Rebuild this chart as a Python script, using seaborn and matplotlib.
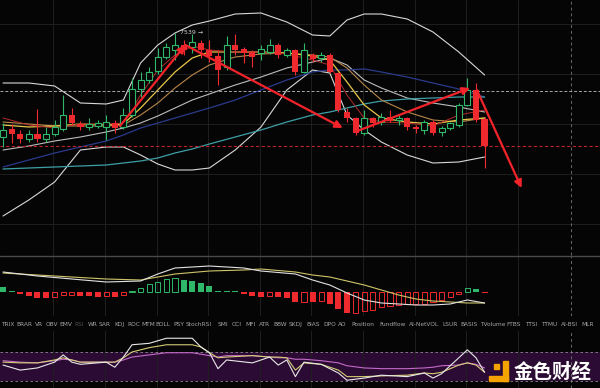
import numpy as np
import matplotlib
matplotlib.use("Agg")
import matplotlib.pyplot as plt
import seaborn as sns

# ---- candles (price) ----
opens = [7435, 7443, 7438, 7433, 7438, 7433, 7438, 7443, 7457, 7448,
         7445, 7446, 7445, 7449, 7445, 7457, 7483, 7492, 7501, 7515,
         7522, 7527, 7525, 7529, 7522, 7516, 7505, 7527, 7523, 7520,
         7519, 7520, 7527, 7517, 7522, 7500, 7517, 7514, 7517, 7499,
         7460, 7454, 7439, 7454, 7450, 7455, 7452, 7454, 7445, 7442,
         7450, 7440, 7444, 7447, 7467, 7482, 7453]
highs = [7449, 7448, 7442, 7442, 7463, 7445, 7452, 7477, 7464, 7451,
         7454, 7452, 7457, 7452, 7464, 7494, 7500, 7505, 7524, 7529,
         7539, 7532, 7538, 7532, 7532, 7522, 7536, 7538, 7525, 7522,
         7527, 7533, 7529, 7524, 7523, 7529, 7519, 7520, 7519, 7500,
         7464, 7455, 7462, 7455, 7459, 7462, 7457, 7455, 7447, 7452,
         7452, 7446, 7450, 7469, 7494, 7489, 7455]
lows = [7425, 7429, 7429, 7430, 7430, 7430, 7436, 7441, 7447, 7442,
        7442, 7444, 7432, 7439, 7443, 7455, 7475, 7489, 7498, 7513,
        7512, 7517, 7519, 7514, 7510, 7487, 7502, 7517, 7509, 7505,
        7512, 7518, 7514, 7515, 7497, 7499, 7510, 7510, 7499, 7460,
        7450, 7437, 7437, 7445, 7447, 7450, 7447, 7442, 7439, 7438,
        7437, 7436, 7442, 7445, 7466, 7450, 7404]
closes = [7442, 7438, 7433, 7438, 7433, 7438, 7445, 7457, 7449, 7445,
          7448, 7449, 7450, 7444, 7457, 7483, 7492, 7500, 7515, 7525,
          7527, 7522, 7530, 7522, 7516, 7502, 7527, 7522, 7519, 7515,
          7523, 7527, 7517, 7522, 7500, 7522, 7513, 7517, 7500, 7462,
          7454, 7439, 7454, 7449, 7455, 7451, 7454, 7445, 7443, 7450,
          7439, 7444, 7449, 7467, 7482, 7452, 7426]

# ---- overlay lines, sampled at these candles ----
ma_idx = [0, 3, 6, 9, 12, 14, 16, 18, 20, 22, 24, 27, 30, 33, 36, 38, 40, 42, 44, 47, 50, 53, 56]
boll_up = [7489, 7489, 7486, 7469, 7468, 7472, 7509, 7527, 7539, 7547, 7551, 7558,
           7559, 7550, 7537, 7536, 7552, 7558, 7558, 7553, 7540, 7520, 7497]
boll_dn = [7356, 7372, 7390, 7422, 7425, 7425, 7417, 7408, 7402, 7402, 7404, 7422,
           7445, 7482, 7502, 7499, 7457, 7442, 7430, 7417, 7409, 7410, 7415]
ma_gray = [7422, 7426, 7431, 7435, 7440, 7444, 7449, 7456, 7464, 7472, 7478, 7487,
           7495, 7504, 7510, 7514, 7507, 7492, 7484, 7474, 7469, 7465, 7460]
ma_navy = [7405, 7412, 7419, 7425, 7431, 7437, 7444, 7449, 7454, 7459, 7464, 7472,
           7482, 7492, 7500, 7502, 7502, 7503, 7500, 7495, 7489, 7483, 7475]
ma_teal = [7403, 7404, 7405, 7406, 7407, 7409, 7411, 7414, 7419, 7423, 7428, 7435,
           7442, 7450, 7457, 7460, 7464, 7468, 7471, 7473, 7474, 7475, 7475]
ma_yellow = [7447, 7445, 7446, 7448, 7447, 7448, 7464, 7482, 7500, 7514, 7520, 7520,
             7520, 7519, 7516, 7512, 7490, 7467, 7454, 7450, 7448, 7452, 7454]
ma_tan = [7450, 7448, 7446, 7446, 7446, 7447, 7457, 7469, 7484, 7497, 7507, 7515,
          7518, 7519, 7517, 7515, 7504, 7487, 7472, 7460, 7452, 7450, 7454]
ma_red = [7454, 7447, 7444, 7448, 7448, 7449, 7477, 7502, 7517, 7526, 7522, 7520,
          7520, 7518, 7512, 7507, 7477, 7454, 7450, 7449, 7446, 7457, 7462]

high_mark = 7539
ref_price = 7481  # white dashed level

# hand drawn arrows: (candle, price) waypoints
arrows = [((13.6, 7446), (21.2, 7527)),
          ((21.2, 7527), (39.5, 7444)),
          ((40.9, 7440), (54.3, 7484)),
          ((55.1, 7482), (60.3, 7384))]

# ---- MACD ----
macd_hist = [4.7, 1.0, -1.5, -3.5, -5.5, -5.7, -4.5, -3.2, -3.0, -3.8,
             -4.0, -4.5, -4.3, -5.3, -3.0, 1.0, 4.5, 7.7, 10.3, 13.0,
             13.7, 12.5, 11.3, 9.3, 6.0, 1.2, 1.0, 0.8, -2.0, -3.7,
             -4.7, -4.0, -5.3, -5.7, -9.7, -9.5, -9.8, -9.3, -12.0, -16.7,
             -21.0, -20.5, -19.3, -17.7, -15.0, -14.3, -13.3, -12.0, -11.7, -11.5,
             -10.0, -8.3, -5.0, -1.7, 4.0, 3.3, -1.0]
macd_idx = [0, 4, 8, 12, 16, 18, 20, 24, 28, 30, 34, 36, 38, 40, 42, 44, 46, 48, 50, 52, 54, 56]
dif = [20, 16, 13, 10, 11, 18, 24, 26, 24, 21, 18, 12, 7, -1, -8, -11, -12, -13, -13, -12, -8, -11]
dea = [19, 17, 15, 13, 12, 15, 18, 21, 22, 23, 20, 17, 15, 11, 7, 2, -3, -7, -9, -10, -11, -11]

# ---- RSI ----
rsi_idx = [0, 2, 4, 6, 7, 8, 9, 12, 13, 14, 15, 17, 19, 20, 22, 23, 24, 25, 26,
           29, 31, 32, 33, 34, 35, 37, 39, 40, 42, 44, 47, 49, 50, 51, 53, 54, 55, 56]
rsi6 = [52, 45, 48, 56, 66, 56, 53, 56, 49, 63, 80, 82, 89, 89, 89, 77, 69, 47, 59,
        55, 63, 52, 59, 36, 56, 53, 41, 31, 34, 38, 36, 41, 34, 40, 62, 73, 62, 42]
rsi12 = [56, 55, 55, 59, 62, 59, 56, 56, 56, 62, 70, 76, 80, 80, 80, 77, 69, 62, 63,
         65, 63, 63, 62, 45, 55, 53, 45, 36, 36, 37, 38, 41, 40, 42, 52, 55, 52, 42]
rsi24 = [58, 56, 55, 58, 60, 59, 56, 56, 56, 59, 63, 66, 69, 69, 69, 67, 65, 63, 65,
         65, 63, 62, 62, 60, 60, 58, 55, 51, 48, 47, 47, 48, 49, 51, 52, 55, 53, 48]

tabs = ["TRIX", "BRAR", "VR", "OBV", "EMV", "RSI", "WR", "SAR", "KDJ", "ROC", "MTM",
        "BOLL", "PSY", "StochRSI", "SMI", "CCI", "MFI", "ATR", "BBW", "SKDJ", "BIAS",
        "DPO", "AO", "Position", "Fundflow", "AI-NetVOL", "LSUR", "BASIS", "TVolume",
        "FTBS", "TTSI", "TTMU", "AI-BSI", "MLR"]
tab_px = [7.5, 24.5, 39, 52, 66, 79.5, 92.5, 105, 119.5, 133.5, 148, 163, 178.5, 199,
          223, 237, 251, 264.5, 280, 295.5, 313, 329.5, 342, 362.5, 392.5, 424, 450,
          469, 492.5, 513.5, 531, 549, 569.5, 588]

# ---- style ----
BG = "#050505"
GRID = "#1f1f1f"
UP = "#2fb869"
DN = "#ee2a2f"
sns.set_theme(style="dark", rc={"axes.facecolor": BG, "figure.facecolor": BG,
                                 "axes.edgecolor": BG})
plt.rcParams["font.family"] = ["DejaVu Sans"]

W, H = 600, 388
fig = plt.figure(figsize=(6, 3.88), dpi=100)
ax = fig.add_axes([0, (H - 255) / H, 1, 255 / H])
axm = fig.add_axes([0, (H - 316) / H, 1, 61 / H])
axr = fig.add_axes([0, 0, 1, 57 / H])

xl = (-0.35, 69.42)
vgrid = np.arange(6, 61, 6) - 0.15
for a in (ax, axm, axr):
    a.set_xlim(*xl)
    a.set_xticks(vgrid)
    a.tick_params(length=0, labelbottom=False, labelleft=False)
    a.grid(axis="x", color=GRID, lw=0.7)
    for s in a.spines.values():
        s.set_visible(False)
    a.axvline(66, color="#6a6a6a", lw=0.7, ls=(0, (3, 3)))

# main panel
ax.set_ylim(7317, 7572)
ax.set_yticks([7548, 7498, 7448, 7398, 7348])
ax.grid(axis="y", color=GRID, lw=0.7)

lines = [(boll_up, "#d8d8d8", 0.8), (boll_dn, "#d8d8d8", 0.8), (ma_gray, "#bdbdbd", 0.8),
         (ma_navy, "#2a3a8c", 0.9), (ma_teal, "#3e9fa6", 0.9), (ma_tan, "#b8864a", 0.8),
         (ma_yellow, "#e8c64a", 0.9), (ma_red, "#b02a2a", 0.7)]
for vals, c, w in lines:
    sns.lineplot(x=ma_idx, y=vals, ax=ax, color=c, lw=w)

idx = np.arange(len(opens))
o = np.array(opens); c_ = np.array(closes)
up = c_ >= o
cols = np.where(up, UP, DN)
ax.vlines(idx, lows, highs, colors=cols, lw=0.8, zorder=3)
body_lo = np.minimum(o, c_)
body_h = np.maximum(np.abs(c_ - o), 1)
ax.bar(idx[~up], body_h[~up], bottom=body_lo[~up], width=0.72, color=DN, lw=0, zorder=4)
ax.bar(idx[up], body_h[up], bottom=body_lo[up], width=0.68, facecolor=BG,
       edgecolor=UP, lw=0.8, zorder=4)

ax.axhline(closes[-1], color="#b8232b", lw=0.8, ls=(0, (3, 2)), zorder=2)
ax.axhline(ref_price, color="#a8a8a8", lw=0.7, ls=(0, (3, 2)), zorder=2)

for (x0, y0), (x1, y1) in arrows:
    ax.annotate("", xy=(x1, y1), xytext=(x0, y0), zorder=6,
                arrowprops=dict(arrowstyle="-|>", color="#f2232a", lw=1.6,
                                mutation_scale=11, shrinkA=0, shrinkB=0))
ax.text(20.6, high_mark + 1, f"{high_mark} \u2192", color="#cfcfcf", fontsize=4.5,
        va="center", ha="left", zorder=7)

# MACD panel
axm.set_ylim(-24, 37)
axm.axhline(36.5, color="#4a4a4a", lw=1.0)
hist = np.array(macd_hist)
prev = np.r_[hist[0] + 1, hist[:-1]]
filled = hist < prev
hcol = np.where(hist >= 0, UP, DN)
for k in range(len(hist)):
    v = hist[k]
    h = v if abs(v) >= 0.8 else np.sign(v) * 0.8
    if filled[k]:
        axm.bar(k, h, width=0.68, color=hcol[k], lw=0)
    else:
        axm.bar(k, h, width=0.62, facecolor="none", edgecolor=hcol[k], lw=0.7)
sns.lineplot(x=macd_idx, y=dea, ax=axm, color="#cfc46a", lw=0.8)
sns.lineplot(x=macd_idx, y=dif, ax=axm, color="#e2e2e2", lw=0.8)

# indicator tabs
for name, px in zip(tabs, tab_px):
    fig.text(px / W, (H - 326) / H, name, ha="center", va="baseline", fontsize=4.2,
             color="#4d4d4d" if name == "RSI" else "#a5a5a5")

# RSI panel
axr.set_ylim(20.3, 99)
axr.axhspan(30, 70, color="#2b0b33", lw=0, zorder=0)
axr.axhline(70, color="#8a8a8a", lw=0.6, ls=(0, (3, 3)))
axr.axhline(30, color="#8a8a8a", lw=0.6, ls=(0, (3, 3)))
sns.lineplot(x=rsi_idx, y=rsi24, ax=axr, color="#c46ac8", lw=0.8)
sns.lineplot(x=rsi_idx, y=rsi12, ax=axr, color="#d4cc74", lw=0.8)
sns.lineplot(x=rsi_idx, y=rsi6, ax=axr, color="#e8e8e8", lw=0.8)

# watermark
fig.patches.append(plt.Rectangle((489 / W, (H - 381) / H), 19 / W, 5 / H,
                                 transform=fig.transFigure, color="#f5a300"))
fig.patches.append(plt.Rectangle((503 / W, (H - 381) / H), 5 / W, 20 / H,
                                 transform=fig.transFigure, color="#f5a300"))
fig.patches.append(plt.Rectangle((494 / W, (H - 369) / H), 5 / W, 5 / H,
                                 transform=fig.transFigure, color="#f5a300"))
fig.text(553 / W, (H - 372) / H, "金色财经", ha="center", va="center", fontsize=14,
         color="white", family=["Noto Sans CJK SC", "DejaVu Sans"], weight="bold")

fig.savefig("out.png", dpi=100, facecolor=BG)
